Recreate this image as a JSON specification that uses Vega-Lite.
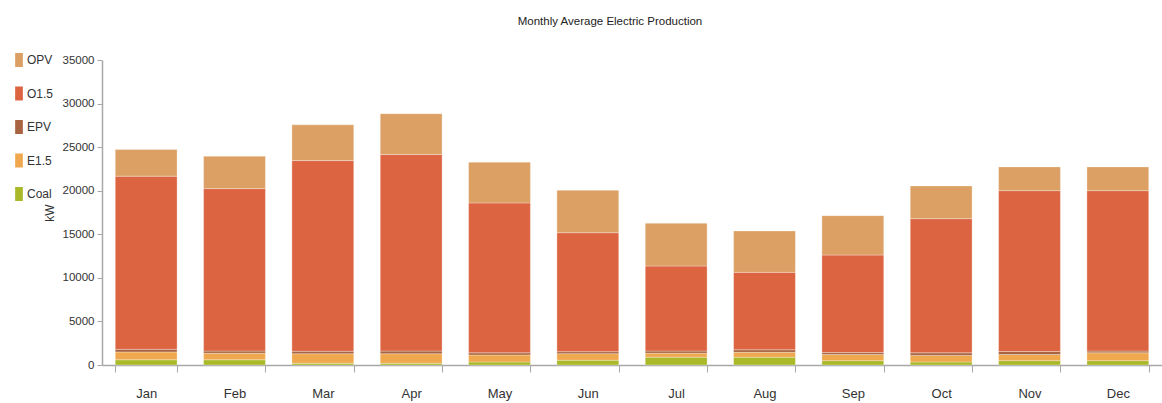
{
  "$schema": "https://vega.github.io/schema/vega-lite/v6.json",
  "autosize": {"type": "none"},
  "width": 1060,
  "height": 305,
  "padding": {"left": 102, "top": 60, "right": 0, "bottom": 38},
  "background": "white",
  "title": {
    "text": "Monthly Average Electric Production",
    "font": "Liberation Sans, sans-serif",
    "fontSize": 11.5,
    "fontWeight": "normal",
    "color": "#222222",
    "anchor": "middle",
    "dx": -22,
    "offset": 26
  },
  "data": {
    "values": [
      {"month": "Jan", "series": "Coal", "kw": 600}, {"month": "Jan", "series": "E1.5", "kw": 900}, {"month": "Jan", "series": "EPV", "kw": 300}, {"month": "Jan", "series": "O1.5", "kw": 19870}, {"month": "Jan", "series": "OPV", "kw": 3060},
      {"month": "Feb", "series": "Coal", "kw": 600}, {"month": "Feb", "series": "E1.5", "kw": 750}, {"month": "Feb", "series": "EPV", "kw": 250}, {"month": "Feb", "series": "O1.5", "kw": 18640}, {"month": "Feb", "series": "OPV", "kw": 3725},
      {"month": "Mar", "series": "Coal", "kw": 200}, {"month": "Mar", "series": "E1.5", "kw": 1100}, {"month": "Mar", "series": "EPV", "kw": 280}, {"month": "Mar", "series": "O1.5", "kw": 21880}, {"month": "Mar", "series": "OPV", "kw": 4100},
      {"month": "Apr", "series": "Coal", "kw": 200}, {"month": "Apr", "series": "E1.5", "kw": 1100}, {"month": "Apr", "series": "EPV", "kw": 300}, {"month": "Apr", "series": "O1.5", "kw": 22550}, {"month": "Apr", "series": "OPV", "kw": 4680},
      {"month": "May", "series": "Coal", "kw": 350}, {"month": "May", "series": "E1.5", "kw": 800}, {"month": "May", "series": "EPV", "kw": 250}, {"month": "May", "series": "O1.5", "kw": 17200}, {"month": "May", "series": "OPV", "kw": 4680},
      {"month": "Jun", "series": "Coal", "kw": 550}, {"month": "Jun", "series": "E1.5", "kw": 750}, {"month": "Jun", "series": "EPV", "kw": 230}, {"month": "Jun", "series": "O1.5", "kw": 13650}, {"month": "Jun", "series": "OPV", "kw": 4870},
      {"month": "Jul", "series": "Coal", "kw": 900}, {"month": "Jul", "series": "E1.5", "kw": 450}, {"month": "Jul", "series": "EPV", "kw": 250}, {"month": "Jul", "series": "O1.5", "kw": 9760}, {"month": "Jul", "series": "OPV", "kw": 4910},
      {"month": "Aug", "series": "Coal", "kw": 900}, {"month": "Aug", "series": "E1.5", "kw": 550}, {"month": "Aug", "series": "EPV", "kw": 300}, {"month": "Aug", "series": "O1.5", "kw": 8880}, {"month": "Aug", "series": "OPV", "kw": 4750},
      {"month": "Sep", "series": "Coal", "kw": 500}, {"month": "Sep", "series": "E1.5", "kw": 700}, {"month": "Sep", "series": "EPV", "kw": 230}, {"month": "Sep", "series": "O1.5", "kw": 11190}, {"month": "Sep", "series": "OPV", "kw": 4520},
      {"month": "Oct", "series": "Coal", "kw": 350}, {"month": "Oct", "series": "E1.5", "kw": 750}, {"month": "Oct", "series": "EPV", "kw": 300}, {"month": "Oct", "series": "O1.5", "kw": 15390}, {"month": "Oct", "series": "OPV", "kw": 3760},
      {"month": "Nov", "series": "Coal", "kw": 500}, {"month": "Nov", "series": "E1.5", "kw": 700}, {"month": "Nov", "series": "EPV", "kw": 350}, {"month": "Nov", "series": "O1.5", "kw": 18460}, {"month": "Nov", "series": "OPV", "kw": 2725},
      {"month": "Dec", "series": "Coal", "kw": 500}, {"month": "Dec", "series": "E1.5", "kw": 900}, {"month": "Dec", "series": "EPV", "kw": 200}, {"month": "Dec", "series": "O1.5", "kw": 18410}, {"month": "Dec", "series": "OPV", "kw": 2725}
    ]
  },
  "mark": {"type": "bar", "stroke": "white", "strokeWidth": 1, "strokeOpacity": 0.3},
  "encoding": {
    "x": {
      "field": "month",
      "type": "nominal",
      "sort": null,
      "scale": {"paddingInner": 0.3, "paddingOuter": 0.15},
      "axis": {
        "title": null,
        "labelAngle": 0,
        "tickBand": "extent",
        "tickSize": 7,
        "tickColor": "#A8A8A8",
        "domainColor": "#A8A8A8",
        "domainWidth": 1.5,
        "labelPadding": 15,
        "labelFont": "Liberation Sans, sans-serif",
        "labelFontSize": 13,
        "labelColor": "#333333"
      }
    },
    "y": {
      "field": "kw",
      "type": "quantitative",
      "stack": "zero",
      "scale": {"domain": [0, 35000], "nice": false},
      "axis": {
        "title": "kW",
        "titleFont": "Liberation Sans, sans-serif",
        "titleFontSize": 12,
        "titleFontWeight": "normal",
        "titleColor": "#333333",
        "titlePadding": 6,
        "values": [0, 5000, 10000, 15000, 20000, 25000, 30000, 35000],
        "format": "d",
        "grid": false,
        "tickSize": 5,
        "tickColor": "#A8A8A8",
        "domainColor": "#A8A8A8",
        "domainWidth": 1.5,
        "labelPadding": 3,
        "labelFont": "Liberation Sans, sans-serif",
        "labelFontSize": 11.5,
        "labelColor": "#333333"
      }
    },
    "color": {
      "field": "series",
      "type": "nominal",
      "scale": {
        "domain": ["OPV", "O1.5", "EPV", "E1.5", "Coal"],
        "range": ["#DCA064", "#DC6441", "#A86440", "#F0A84E", "#A9B928"]
      },
      "legend": {
        "title": null,
        "orient": "none",
        "legendX": -90,
        "legendY": -7,
        "padding": 0,
        "symbolType": "M-0.55,-1H0.55V1H-0.55Z",
        "symbolSize": 196,
        "symbolStrokeWidth": 0,
        "symbolOpacity": 1,
        "labelOffset": 1,
        "rowPadding": 19.5,
        "labelFont": "Liberation Sans, sans-serif",
        "labelFontSize": 12,
        "labelColor": "#333333"
      }
    },
    "order": {"field": "series", "sort": "ascending"}
  },
  "config": {"view": {"stroke": null}}
}
